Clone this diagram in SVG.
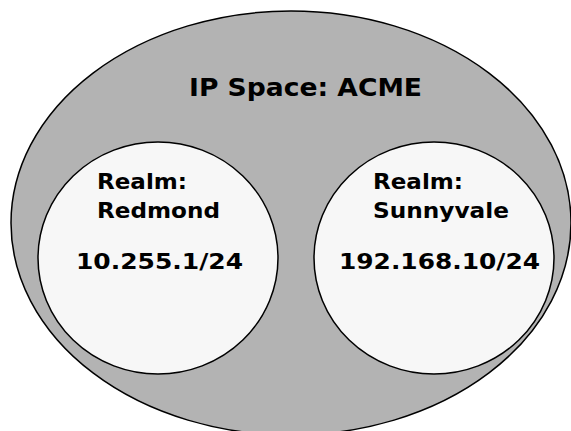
<svg xmlns="http://www.w3.org/2000/svg" width="571" height="431" viewBox="0 0 571 431">
<style>
.t{font-family:"DejaVu Sans","Liberation Sans",sans-serif;font-weight:bold;fill:#000}
.sh{stroke:#000;stroke-width:1.5}
</style>
<rect width="571" height="431" fill="#fff"/>
<g id="ipspace">
<ellipse class="sh" cx="291" cy="223" rx="280" ry="212" fill="#b3b3b3"/>
<text class="t" x="189" y="96" font-size="24" textLength="233" lengthAdjust="spacingAndGlyphs">IP Space: ACME</text>
</g>
<g id="redmond">
<ellipse class="sh" cx="158" cy="258" rx="120" ry="116" fill="#f7f7f7"/>
<text class="t" x="97" y="189" font-size="22" textLength="90" lengthAdjust="spacingAndGlyphs">Realm:</text>
<text class="t" x="97" y="218" font-size="22" textLength="123" lengthAdjust="spacingAndGlyphs">Redmond</text>
<text class="t" x="76" y="269" font-size="22" textLength="167" lengthAdjust="spacingAndGlyphs">10.255.1/24</text>
</g>
<g id="sunnyvale">
<ellipse class="sh" cx="434" cy="258" rx="120" ry="116" fill="#f7f7f7"/>
<text class="t" x="373" y="189" font-size="22" textLength="90" lengthAdjust="spacingAndGlyphs">Realm:</text>
<text class="t" x="373" y="218" font-size="22" textLength="136" lengthAdjust="spacingAndGlyphs">Sunnyvale</text>
<text class="t" x="339" y="269" font-size="22" textLength="201" lengthAdjust="spacingAndGlyphs">192.168.10/24</text>
</g>
</svg>
